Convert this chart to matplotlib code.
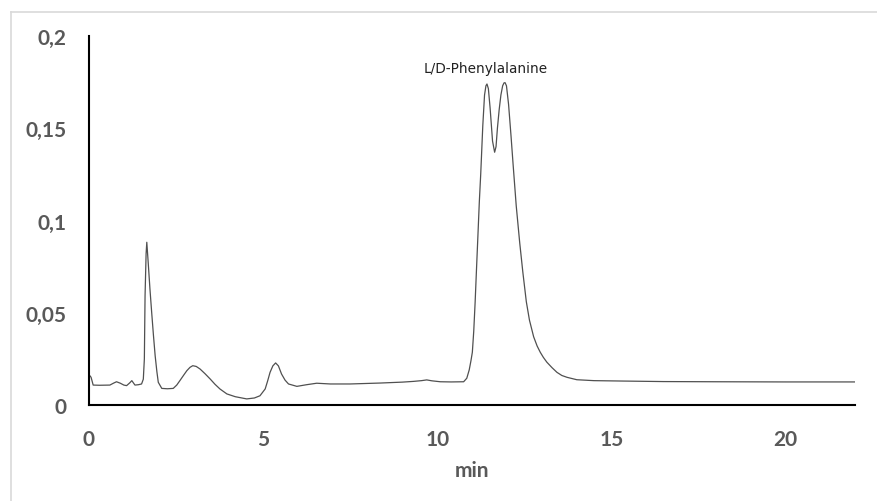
import matplotlib
matplotlib.use("Agg")
import matplotlib.pyplot as plt
from matplotlib.lines import Line2D

# Chromatogram trace: retention time (min) and detector response
time_min = [
    0.00, 0.03, 0.06, 0.12, 0.30, 0.60, 0.70, 0.79, 0.90, 1.00, 1.08,
    1.17, 1.23, 1.32, 1.42, 1.51, 1.56, 1.59, 1.61, 1.64, 1.66, 1.70,
    1.75, 1.80, 1.85, 1.90, 1.95, 1.99, 2.09, 2.25, 2.42, 2.52, 2.61,
    2.72, 2.81, 2.90, 2.98, 3.08, 3.19, 3.33, 3.48, 3.62, 3.76, 3.96,
    4.20, 4.53, 4.75, 4.91, 5.06, 5.13, 5.20, 5.28, 5.36, 5.44, 5.53,
    5.63, 5.73, 5.97, 6.25, 6.54, 6.93, 7.50, 8.36, 9.00, 9.32, 9.55,
    9.70, 9.85, 10.09, 10.40, 10.76, 10.85, 10.92, 10.97, 11.01, 11.05,
    11.09, 11.13, 11.17, 11.21, 11.25, 11.31, 11.36, 11.40, 11.43,
    11.47, 11.52, 11.59, 11.65, 11.69, 11.73, 11.78, 11.83, 11.88,
    11.92, 11.95, 11.99, 12.05, 12.12, 12.18, 12.27, 12.37, 12.46,
    12.56, 12.65, 12.77, 12.87, 12.96, 13.05, 13.15, 13.30, 13.44,
    13.58, 13.73, 14.01, 14.50, 15.26, 16.50, 18.00, 20.00, 22.00,
]
absorbance = [
    0.0150, 0.0158, 0.0150, 0.0108, 0.0107, 0.0108, 0.0118, 0.0126,
    0.0118, 0.0108, 0.0105, 0.0120, 0.0132, 0.0108, 0.0110, 0.0114,
    0.0140, 0.0250, 0.0592, 0.0820, 0.0882, 0.0773, 0.0630, 0.0502,
    0.0380, 0.0267, 0.0180, 0.0123, 0.0090, 0.0088, 0.0090, 0.0108,
    0.0132, 0.0162, 0.0186, 0.0204, 0.0213, 0.0209, 0.0195, 0.0170,
    0.0141, 0.0112, 0.0087, 0.0060, 0.0045, 0.0033, 0.0038, 0.0050,
    0.0087, 0.0130, 0.0177, 0.0212, 0.0228, 0.0212, 0.0168, 0.0135,
    0.0114, 0.0101, 0.0110, 0.0118, 0.0114, 0.0114, 0.0119, 0.0124,
    0.0128, 0.0132, 0.0136, 0.0131, 0.0126, 0.0125, 0.0126, 0.0145,
    0.0190, 0.0240, 0.0286, 0.0400, 0.0557, 0.0740, 0.0918, 0.1100,
    0.1250, 0.1514, 0.1680, 0.1730, 0.1740, 0.1715, 0.1610, 0.1430,
    0.1370, 0.1400, 0.1500, 0.1600, 0.1680, 0.1730, 0.1746, 0.1747,
    0.1730, 0.1630, 0.1460, 0.1305, 0.1080, 0.0880, 0.0720, 0.0560,
    0.0460, 0.0370, 0.0320, 0.0286, 0.0258, 0.0232, 0.0202, 0.0177,
    0.0160, 0.0150, 0.0137, 0.0132, 0.0130, 0.0127, 0.0126, 0.0125,
    0.0125,
]

x_ticks = [0, 5, 10, 15, 20]
y_ticks = [0, 0.05, 0.1, 0.15, 0.2]
y_tick_labels = ["0", "0,05", "0,1", "0,15", "0,2"]
peak_label = "L/D-Phenylalanine"
peak_label_pos = (11.40, 0.1827)

W, H = 878, 502
fig = plt.figure(figsize=(W / 100, H / 100), dpi=100)
fig.patch.set_facecolor("white")

# thin chart-area frame (top and left edges)
fig.add_artist(Line2D([11 / W, 1.0], [1 - 13 / H, 1 - 13 / H],
                      transform=fig.transFigure, color="#d9d9d9", lw=1.2))
fig.add_artist(Line2D([11 / W, 11 / W], [0.0, 1 - 13 / H],
                      transform=fig.transFigure, color="#d9d9d9", lw=1.2))

left, right, bottom, top = 89 / W, 855 / W, 1 - 406 / H, 1 - 37 / H
ax = fig.add_axes([left, bottom, right - left, top - bottom])
ax.plot(time_min, absorbance, color="#505050", lw=0.9, solid_joinstyle="round")

ax.set_xlim(0, 22)
ax.set_ylim(0, 0.2)
ax.set_xticks(x_ticks)
ax.set_yticks(y_ticks)
ax.set_yticklabels(y_tick_labels)

for lab in ax.get_xticklabels() + ax.get_yticklabels():
    lab.set_fontfamily("Lato")
    lab.set_fontweight("bold")
    lab.set_fontsize(15)
    lab.set_color("#595959")

ax.tick_params(axis="both", length=0)
ax.tick_params(axis="x", pad=17)
ax.tick_params(axis="y", pad=16)

for side in ("top", "right"):
    ax.spines[side].set_visible(False)
for side in ("left", "bottom"):
    ax.spines[side].set_color("black")
    ax.spines[side].set_linewidth(1.5)

ax.set_xlabel("min", fontfamily="Lato", fontweight="bold", fontsize=15,
              color="#595959", labelpad=8)

ax.text(peak_label_pos[0], peak_label_pos[1], peak_label,
        fontfamily="DejaVu Sans", fontsize=9.8, color="#222222",
        ha="center", va="center")

fig.savefig("out.png", dpi=100, facecolor="white")
